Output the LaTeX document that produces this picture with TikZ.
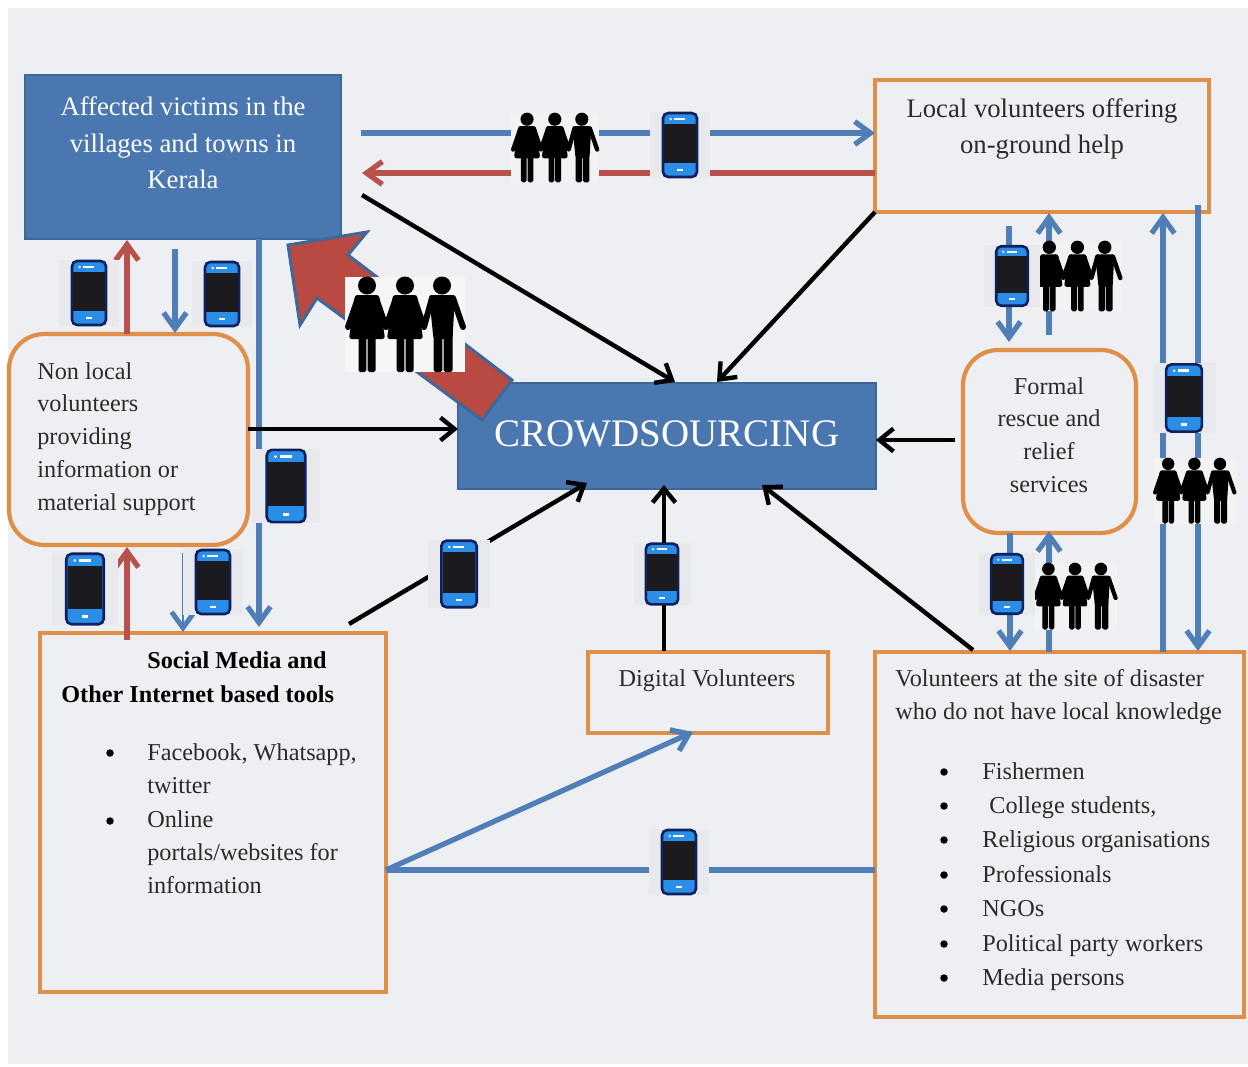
\documentclass[tikz,border=0pt]{standalone}
\usepackage{fontspec}
\setmainfont{Liberation Serif}
\usetikzlibrary{arrows.meta}

\definecolor{panel}{HTML}{EEEFF2}
\definecolor{boxblue}{HTML}{4A77B0}
\definecolor{edgeblue}{HTML}{3E6899}
\definecolor{linkblue}{HTML}{4F7FB6}
\definecolor{linkred}{HTML}{B8504C}
\definecolor{bigred}{HTML}{B94A42}
\definecolor{boxorange}{HTML}{E08F48}
\definecolor{textgray}{HTML}{2B2B2B}
\definecolor{phoneback}{HTML}{E8E9EC}
\definecolor{peopleback}{HTML}{F1F2F4}
\definecolor{peoplewhite}{HTML}{F6F6F8}
\definecolor{phoneblue}{HTML}{2A8DE8}
\definecolor{phonenavy}{HTML}{0E2060}
\definecolor{phonedark}{HTML}{1B1B1F}

% phone: centre x, centre y, scale
\newcommand{\phoneicon}[3]{
\begin{scope}[shift={(#1,#2)},scale=#3]
	\fill[phoneback] (-30,-33) rectangle (30,33);
	\draw[fill=phoneblue,draw=phonenavy,line width=1.5pt,rounded corners=3pt] (-17,-32) rectangle (17,32);
	\fill[phonedark] (-15.8,-21) rectangle (15.8,18);
	\fill[white] (-9.3,-26) circle (1.3);
	\fill[white] (-5.6,-27.3) rectangle (5,-24.9);
	\fill[white] (-2.8,23.8) rectangle (2.8,26.2);
\end{scope}
}

% woman: centre x
\newcommand{\womanfig}[1]{
	\fill (#1,8.5) circle (9);
	\fill[rounded corners=1.5pt] (#1-12,18) -- (#1+12,18) -- (#1+18,62) -- (#1-18,62) -- cycle;
	\fill[rounded corners=1pt] (#1-8.5,60) rectangle (#1-0.6,95);
	\fill[rounded corners=1pt] (#1+0.6,60) rectangle (#1+8.5,95);
}
% people: left x, top y, scale, back colour
\newcommand{\peopleicon}[4]{
\begin{scope}[shift={(#1,#2)},scale=#3]
	\fill[#4] (0,0) rectangle (120,95);
	\womanfig{22}
	\womanfig{60}
	\fill (97,8.5) circle (9);
	\fill[rounded corners=1.5pt] (84,18) -- (110,18) -- (107.5,62) -- (88.5,62) -- cycle;
	\fill[rounded corners=1pt] (88.5,55) rectangle (97.4,95);
	\fill[rounded corners=1pt] (98.6,55) rectangle (107.5,95);
	\draw[line width=#3*3.4pt,line cap=round,line join=round] (13,21) -- (3,50);
	\draw[line width=#3*3.4pt,line cap=round,line join=round] (31,21) -- (41,50) -- (51,21);
	\draw[line width=#3*3.4pt,line cap=round,line join=round] (69,21) -- (79,50) -- (87,21);
	\draw[line width=#3*3.4pt,line cap=round,line join=round] (108,21) -- (118,50);
\end{scope}
}

\begin{document}
\begin{tikzpicture}[x=0.02cm,y=-0.02cm,
	solidbox/.style={draw=edgeblue,fill=boxblue,line width=1.6pt,rectangle,outer sep=0,inner sep=0,anchor=north west},
	orangebox/.style={draw=boxorange,line width=2.4pt,rectangle,outer sep=0,inner sep=0,anchor=north west},
	roundbox/.style={orangebox,rounded corners=20pt},
	txt/.style={font=\fontsize{13.8}{18.7}\selectfont,text=textgray,inner sep=0,align=left},
	boldtxt/.style={txt,font=\fontsize{13.8}{18.7}\selectfont\bfseries,text=black,anchor=base west},
	bigtxt/.style={font=\fontsize{15.2}{20.8}\selectfont,text=textgray,inner sep=0,align=center},
	dotmark/.style={circle,fill=black,inner sep=0,minimum size=0.15cm},
	bluearrow/.style={draw=linkblue,line width=3pt,-{Straight Barb[length=9pt,width=13pt]}},
	redarrow/.style={draw=linkred,line width=3pt,-{Straight Barb[length=9pt,width=13pt]}},
	blackarrow/.style={draw=black,line width=2.5pt,-{Straight Barb[length=8pt,width=13pt]}},
	blueline/.style={draw=linkblue,line width=3pt}
]

\useasboundingbox (0,0) rectangle (1248,1066);
\fill[white] (0,0) rectangle (1248,1066);
\fill[panel] (8,8) rectangle (1248,1064);

\node[solidbox,minimum width=6.32cm,minimum height=3.28cm] (victims) at (25,75) {};
\node[orangebox,minimum width=6.68cm,minimum height=2.64cm] (local) at (875,80) {};
\node[roundbox,minimum width=4.78cm,minimum height=4.22cm] (nonlocal) at (9,334) {};
\node[solidbox,minimum width=8.36cm,minimum height=2.12cm] (crowd) at (458,383) {};
\node[roundbox,minimum width=3.46cm,minimum height=3.66cm] (formal) at (963,350) {};
\node[orangebox,minimum width=6.92cm,minimum height=7.18cm] (social) at (40,633) {};
\node[orangebox,minimum width=4.80cm,minimum height=1.62cm] (digital) at (588,652) {};
\node[orangebox,minimum width=7.38cm,minimum height=7.30cm] (sites) at (875,652) {};

% free ends of the links
\coordinate (topblue) at (361,133);
\coordinate (topred) at (362,173);
\coordinate (vicout) at (362,195);
\coordinate (vicin) at (675,382);
\coordinate (localin) at (717,382);
\coordinate (localout) at (875,212);
\coordinate (vicdown) at (259,239);
\coordinate (socin) at (259,627);
\coordinate (nlup) at (127,334);
\coordinate (vicup) at (127,240);
\coordinate (vicdown2) at (175,249);
\coordinate (nldown) at (175,333);
\coordinate (socup) at (127,640);
\coordinate (nlin) at (127,547);
\coordinate (thinout) at (183,553);
\coordinate (thinin) at (183,632);
\coordinate (nlout) at (248,429);
\coordinate (formalout) at (955,440);
\coordinate (socout) at (349,624);
\coordinate (socend) at (587,483);
\coordinate (digout) at (664,651);
\coordinate (digend) at (664,485);
\coordinate (siteout) at (973,650);
\coordinate (siteend) at (762,485);
\coordinate (joint) at (386,870);
\coordinate (digin) at (693,732);
\coordinate (fdown) at (1009,226);
\coordinate (fin) at (1009,342);
\coordinate (fup) at (1049,335);
\coordinate (lin) at (1049,213);
\coordinate (sup1) at (1163,652);
\coordinate (lin2) at (1163,213);
\coordinate (ldown) at (1198,205);
\coordinate (sin2) at (1198,651);
\coordinate (sdown) at (1010,533);
\coordinate (sin1) at (1010,651);
\coordinate (sup2) at (1049,652);
\coordinate (fin2) at (1049,531);

\draw[bluearrow] (topblue) -- (local.west |- topblue);
\draw[redarrow] (local.west |- topred) -- (topred);
\draw[blackarrow] (vicout) -- (vicin);
\draw[blackarrow] (localout) -- (localin);
\draw[bluearrow] (vicdown) -- (socin);
\draw[redarrow] (nlup) -- (vicup);
\draw[bluearrow] (vicdown2) -- (nldown);
\draw[blackarrow] (nlout) -- (crowd.west |- nlout);
\draw[blackarrow] (formalout) -- (crowd.east |- formalout);
\draw[redarrow] (socup) -- (nlin);
\draw[draw=linkblue,line width=0.9pt,-{Straight Barb[line width=2.8pt,length=9pt,width=13pt]}] (thinout) -- (thinin);
\draw[blackarrow] (socout) -- (socend);
\draw[blackarrow] (digout) -- (digend);
\draw[blackarrow] (siteout) -- (siteend);
\draw[blueline] (joint) -- (sites.west |- joint);
\draw[bluearrow] (joint) -- (digin);
\draw[bluearrow] (fdown) -- (fin);
\draw[bluearrow] (fup) -- (lin);
\draw[bluearrow] (sup1) -- (lin2);
\draw[bluearrow] (ldown) -- (sin2);
\draw[bluearrow] (sdown) -- (sin1);
\draw[bluearrow] (sup2) -- (fin2);

% big arrow towards the victims
\draw[fill=bigred,draw=edgeblue,line width=1.7pt,line join=miter] (288,245) -- (367,232) -- (348,255) -- (512,380) -- (482,420) -- (317,298) -- (300,325) -- cycle;

\peopleicon{345}{277}{1}{peoplewhite}
\peopleicon{511}{113}{0.73}{peopleback}
\peopleicon{1033}{241}{0.74}{peopleback}
\peopleicon{1153}{458}{0.69}{peopleback}
\peopleicon{1033}{563}{0.7}{peopleback}

\phoneicon{680}{145}{1}
\phoneicon{89}{293}{1}
\phoneicon{222}{294}{1}
\phoneicon{286}{486}{1.13}
\phoneicon{85}{589}{1.1}
\phoneicon{213}{582}{1}
\phoneicon{459}{574}{1.04}
\phoneicon{662}{574}{0.95}
\phoneicon{679}{862}{1}
\phoneicon{1184}{398}{1.05}
\phoneicon{1012}{276}{0.93}
\phoneicon{1007}{584}{0.93}

% texts
\node[bigtxt,text=white] (victimstxt) at (183,143) {Affected victims in the\\villages and towns in\\Kerala};
\node[bigtxt] (localtxt) at (1042,129) {Local volunteers offering\\on-ground help};
\node[txt,anchor=west] (nonlocaltxt) at (37,439) {Non local\\volunteers\\providing\\information or\\material support};
\node[font=\fontsize{22.2}{26}\selectfont,text=white,inner sep=0] (crowdtxt) at (667,434) {CROWDSOURCING};
\node[txt,align=center] (formaltxt) at (1049,435) {Formal\\rescue and\\relief\\services};
\node[boldtxt] (socialtxt) at (147,668) {Social Media and};
\node[boldtxt] (othertxt) at (61,702) {Other Internet based tools};
\node[dotmark] (socialdot1) at (110,753) {};
\node[dotmark] (socialdot2) at (110,821) {};
\node[txt,anchor=base west] (facebooktxt) at (147,793) {Facebook, Whatsapp,\\twitter};
\node[txt,anchor=base west] (onlinetxt) at (147,893) {Online\\portals/websites for\\information};
\node[txt] (digitaltxt) at (707,681) {Digital Volunteers};
\node[txt,anchor=base west] (sitestxt) at (895,719) {Volunteers at the site of disaster\\who do not have local knowledge};

\foreach \i/\y/\x/\t in {1/771/982/Fishermen,2/805/989/{College students,},3/839/982/Religious organisations,4/874/982/Professionals,5/908/982/NGOs,6/943/982/Political party workers,7/977/982/Media persons}{
	\node[dotmark] (sitedot\i) at (944,\y+1) {};
	\node[txt,anchor=base west] (sitetxt\i) at (\x,\y+8) {\t};
}

\end{tikzpicture}
\end{document}
